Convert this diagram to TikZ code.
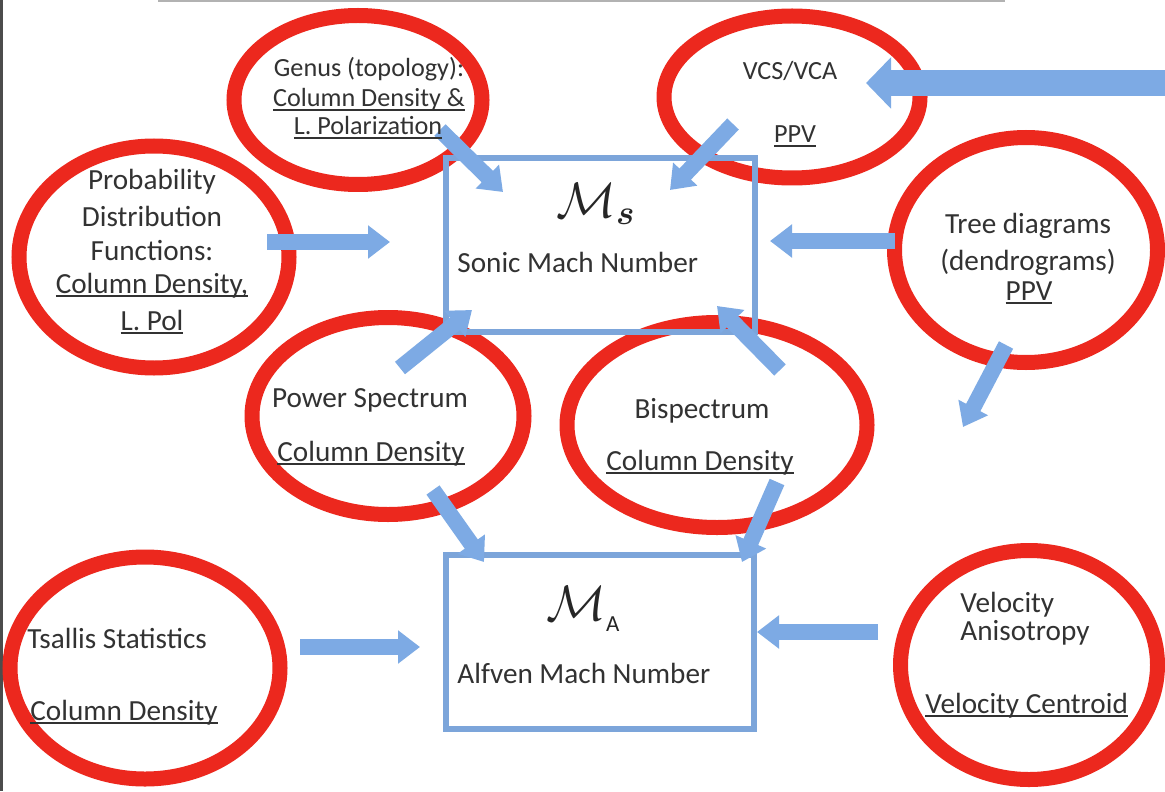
\documentclass[tikz,border=0pt]{standalone}
\usepackage{fontspec}
\setmainfont{Carlito}
\usepackage{amsmath}
\usetikzlibrary{shapes.geometric,arrows.meta}
\definecolor{ringred}{RGB}{236,40,30}
\definecolor{arrblue}{RGB}{125,170,228}
\definecolor{boxblue}{RGB}{124,165,218}
\definecolor{txt}{RGB}{50,50,50}
\newcommand\myul[1]{\setbox0\hbox{#1}\rlap{\rule[-1.9pt]{\wd0}{0.7pt}}\box0}
\begin{document}
\begin{tikzpicture}[x=0.5pt,y=-0.5pt,
 ring/.style={ellipse, draw=ringred, line width=7.5pt, inner sep=0pt},
 mbox/.style={rectangle, draw=boxblue, line width=3pt, inner sep=0pt},
 lbl/.style={text=txt, inner sep=0pt, font=\fontsize{14.6}{17.5}\selectfont},
 slbl/.style={text=txt, inner sep=0pt, font=\fontsize{13.1}{15}\selectfont},
 mth/.style={text=black!85, inner sep=0pt, font=\fontsize{27}{27}\selectfont},
 blk/.style={draw=arrblue, line width=8pt, -{Triangle[width=16pt,length=11pt]}},
 bigblk/.style={draw=arrblue, line width=13pt, -{Triangle[width=25pt,length=12.5pt]}}
]
\useasboundingbox (0,0) rectangle (1165,791);
\fill[white] (0,0) rectangle (1165,791);
\draw[line width=1.5pt, black!70] (1.5,0) -- (1.5,791);
\draw[line width=1pt, black!30] (158,1) -- (1005,1);

% ellipses
\node[ring, minimum width=124pt, minimum height=84.5pt] (genus) at (358,100) {};
\node[ring, minimum width=128pt, minimum height=81pt] (vcs) at (792,97) {};
\node[ring, minimum width=135pt, minimum height=111pt] (pdf) at (154,257) {};
\node[ring, minimum width=131.5pt, minimum height=112.5pt] (tree) at (1026,250) {};
\node[ring, minimum width=136pt, minimum height=98.5pt] (ps) at (388,416) {};
\node[ring, minimum width=150pt, minimum height=102.5pt] (bis) at (717,425) {};
\node[ring, minimum width=135pt, minimum height=111pt] (tsa) at (145,668) {};
\node[ring, minimum width=128.5pt, minimum height=114.5pt] (vel) at (1029,665) {};

% boxes
\node[mbox, minimum width=154.5pt, minimum height=87pt] (ms) at (600.5,245) {};
\node[mbox, minimum width=154pt, minimum height=87pt] (ma) at (600,642) {};

% arrows
\coordinate (a1s) at (440,130); \coordinate (a1e) at (503,192);
\coordinate (a2s) at (733,124); \coordinate (a2e) at (670,190);
\coordinate (a3s) at (1165,83); \coordinate (a3e) at (866,83);
\coordinate (a4s) at (267,242); \coordinate (a4e) at (390,242);
\coordinate (a5s) at (895,241); \coordinate (a5e) at (770,241);
\coordinate (a6s) at (400,368); \coordinate (a6e) at (472,310);
\coordinate (a7s) at (780,370); \coordinate (a7e) at (717,306);
\coordinate (a8s) at (1006,345); \coordinate (a8e) at (963,427);
\coordinate (a9s) at (433,490); \coordinate (a9e) at (484,562);
\coordinate (a10s) at (777,482); \coordinate (a10e) at (742,562);
\coordinate (a11s) at (300,647); \coordinate (a11e) at (420,647);
\coordinate (a12s) at (878,632); \coordinate (a12e) at (757,632);
\draw[blk] (a1s) -- (a1e);
\draw[blk] (a2s) -- (a2e);
\draw[bigblk] (a3s) -- (a3e);
\draw[blk] (a4s) -- (a4e);
\draw[blk] (a5s) -- (a5e);
\draw[blk] (a6s) -- (a6e);
\draw[blk] (a7s) -- (a7e);
\draw[blk] (a8s) -- (a8e);
\draw[blk] (a9s) -- (a9e);
\draw[blk] (a10s) -- (a10e);
\draw[blk] (a11s) -- (a11e);
\draw[blk] (a12s) -- (a12e);

% texts
\node[slbl, anchor=base] (g1) at (369,77) {Genus (topology):};
\node[slbl, anchor=base] (g2) at (369,107) {\myul{Column Density \&}};
\node[slbl, anchor=base] (g3) at (368,135) {\myul{L. Polarization}};
\node[slbl, anchor=base] (v1) at (790,80) {VCS/VCA};
\node[slbl, anchor=base] (v2) at (795,143) {\myul{PPV}};
\node[lbl, anchor=base] (p1) at (152,190) {Probability};
\node[lbl, anchor=base] (p2) at (152,227) {Distribution};
\node[lbl, anchor=base] (p3) at (152,260) {Functions:};
\node[lbl, anchor=base] (p4) at (152,293) {\myul{Column Density,}};
\node[lbl, anchor=base] (p5) at (152,330) {\myul{L. Pol}};
\node[lbl, anchor=base] (t1) at (1028,233) {Tree diagrams};
\node[lbl, anchor=base] (t2) at (1028,270) {(dendrograms)};
\node[lbl, anchor=base] (t3) at (1029,300) {\myul{PPV}};
\node[lbl, anchor=base] (s1) at (370,407) {Power Spectrum};
\node[lbl, anchor=base] (s2) at (371,461) {\myul{Column Density}};
\node[lbl, anchor=base] (b1) at (702,418) {Bispectrum};
\node[lbl, anchor=base] (b2) at (700,470) {\myul{Column Density}};
\node[lbl, anchor=base west] (ts1) at (27,648) {Tsallis Statistics};
\node[lbl, anchor=base west] (ts2) at (30,720) {\myul{Column Density}};
\node[lbl, anchor=base west] (ve1) at (960,612) {Velocity};
\node[lbl, anchor=base west] (ve2) at (960,640) {Anisotropy};
\node[lbl, anchor=base west] (ve3) at (925,713) {\myul{Velocity Centroid}};
\node[lbl, anchor=base west] (sonic) at (457,272) {Sonic Mach Number};
\node[lbl, anchor=base west] (alfven) at (457,683) {Alfven Mach Number};
\node[mth, anchor=base west] (msym) at (556,217) {$\mathcal{M}_{\boldsymbol{s}}$};
\node[mth, anchor=base west] (masym) at (546,620) {$\mathcal{M}_{\raisebox{-2pt}{\fontsize{11.5}{12}\selectfont A}}$};
\end{tikzpicture}
\end{document}
